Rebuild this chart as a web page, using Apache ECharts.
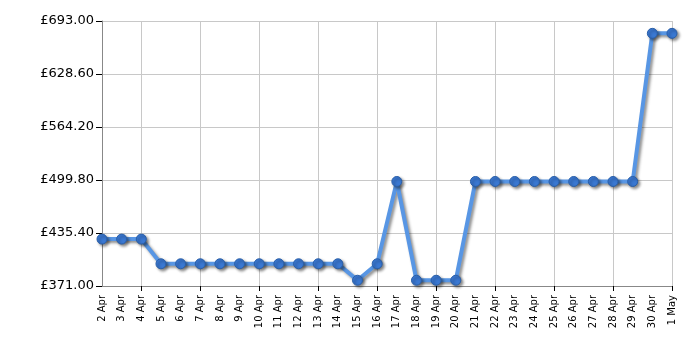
<!DOCTYPE html>
<html><head><meta charset="utf-8">
<script src="https://cdn.jsdelivr.net/npm/echarts@6/dist/echarts.min.js"></script>
<style>html,body{margin:0;padding:0;background:#fff}#c{width:700px;height:350px}</style>
</head><body><div id="c"></div>
<script>
const categories = ['2 Apr','3 Apr','4 Apr','5 Apr','6 Apr','7 Apr','8 Apr','9 Apr','10 Apr','11 Apr','12 Apr','13 Apr','14 Apr','15 Apr','16 Apr','17 Apr','18 Apr','19 Apr','20 Apr','21 Apr','22 Apr','23 Apr','24 Apr','25 Apr','26 Apr','27 Apr','28 Apr','29 Apr','30 Apr','1 May'];
const prices = [427.99,427.99,427.99,397.99,397.99,397.99,397.99,397.99,397.99,397.99,397.99,397.99,397.99,377.99,397.99,497.99,377.99,377.99,377.99,497.99,497.99,497.99,497.99,497.99,497.99,497.99,497.99,497.99,678.00,678.00];
const yTicks = [371.00,435.40,499.80,564.20,628.60,693.00];

const chart = echarts.init(document.getElementById('c'));
const font = 'DejaVu Sans, Verdana, sans-serif';
chart.setOption({
  animation:false,
  grid:{left:102,right:28,top:21,bottom:64},
  xAxis:{type:'category',data:categories,boundaryGap:false,
    axisLine:{lineStyle:{color:'#888',width:1}},
    axisTick:{interval:(i)=>i%3===2,length:5,lineStyle:{color:'#000'}},
    axisLabel:{interval:0,rotate:90,fontSize:10,fontFamily:font,color:'#000',margin:9},
    splitLine:{show:true,interval:(i)=>i%3===2,lineStyle:{color:'#c8c8c8',width:1}}
  },
  yAxis:{type:'value',min:371,max:693,
    axisLine:{show:true,lineStyle:{color:'#888'}},
    axisTick:{show:true,length:6,customValues:yTicks,lineStyle:{color:'#000'}},
    axisLabel:{customValues:yTicks,fontSize:13,fontFamily:font,color:'#000',margin:8,formatter:(v)=>'£'+v.toFixed(2)},
    splitLine:{show:true,customValues:yTicks,lineStyle:{color:'#c8c8c8'}}
  },
  series:[{type:'line',data:prices,symbol:'circle',symbolSize:10,
    lineStyle:{color:'#5896e4',width:4,shadowColor:'rgba(0,0,0,0.45)',shadowBlur:3,shadowOffsetX:2,shadowOffsetY:2},
    itemStyle:{color:'#3a78d2',borderColor:'#2a5fa8',borderWidth:1,shadowColor:'rgba(0,0,0,0.45)',shadowBlur:3,shadowOffsetX:2,shadowOffsetY:2}
  }]
});
</script></body></html>
